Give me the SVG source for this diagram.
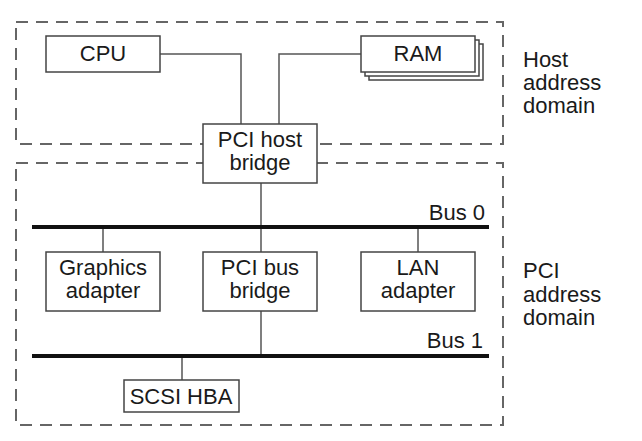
<svg xmlns="http://www.w3.org/2000/svg" width="642" height="441" viewBox="0 0 642 441">
<style>
.dom{fill:none;stroke:#666;stroke-width:2;stroke-dasharray:12 8}
.box{fill:#fff;stroke:#444;stroke-width:1.5}
.ln{fill:none;stroke:#555;stroke-width:1.5}
.bus{fill:none;stroke:#111;stroke-width:4}
text{font-family:"Liberation Sans",Arial,sans-serif;font-size:22px;fill:#1a1a1a}
.c{text-anchor:middle}
.r{text-anchor:end}
</style>
<rect width="642" height="441" fill="#fff"/>
<g id="host-domain">
<rect class="dom" x="16" y="22" width="487" height="122"/>
<text x="523" y="67">Host</text>
<text x="523" y="90">address</text>
<text x="523" y="113">domain</text>
</g>
<g id="pci-domain">
<rect class="dom" x="16" y="163" width="487" height="262"/>
<text x="523" y="278">PCI</text>
<text x="523" y="302">address</text>
<text x="523" y="325">domain</text>
</g>
<g id="connectors">
<polyline class="ln" points="160,54 241,54 241,124"/>
<polyline class="ln" points="279,124 279,54 361,54"/>
<line class="ln" x1="261" y1="183" x2="261" y2="227"/>
<line class="ln" x1="103" y1="227" x2="103" y2="252"/>
<line class="ln" x1="261" y1="227" x2="261" y2="252"/>
<line class="ln" x1="418" y1="227" x2="418" y2="252"/>
<line class="ln" x1="261" y1="311" x2="261" y2="356"/>
<line class="ln" x1="182" y1="356" x2="182" y2="380"/>
</g>
<g id="bus0">
<line class="bus" x1="32" y1="227" x2="489" y2="227"/>
<text class="r" x="485" y="220">Bus 0</text>
</g>
<g id="bus1">
<line class="bus" x1="32" y1="356" x2="489" y2="356"/>
<text class="r" x="483" y="348">Bus 1</text>
</g>
<g id="cpu">
<rect class="box" x="46" y="36" width="114" height="36"/>
<text class="c" x="103" y="61">CPU</text>
</g>
<g id="ram">
<rect class="box" x="369" y="44" width="114" height="36"/>
<rect class="box" x="365" y="40" width="114" height="36"/>
<rect class="box" x="361" y="36" width="114" height="36"/>
<text class="c" x="418" y="61">RAM</text>
</g>
<g id="pci-host-bridge">
<rect class="box" x="203" y="124" width="114" height="59"/>
<text class="c" x="260" y="147">PCI host</text>
<text class="c" x="260" y="170">bridge</text>
</g>
<g id="graphics-adapter">
<rect class="box" x="46" y="252" width="114" height="59"/>
<text class="c" x="103" y="275">Graphics</text>
<text class="c" x="103" y="298">adapter</text>
</g>
<g id="pci-bus-bridge">
<rect class="box" x="203" y="252" width="114" height="59"/>
<text class="c" x="260" y="275">PCI bus</text>
<text class="c" x="260" y="298">bridge</text>
</g>
<g id="lan-adapter">
<rect class="box" x="361" y="252" width="114" height="59"/>
<text class="c" x="418" y="275">LAN</text>
<text class="c" x="418" y="298">adapter</text>
</g>
<g id="scsi-hba">
<rect class="box" x="124" y="380" width="115" height="32"/>
<text class="c" x="181" y="404">SCSI HBA</text>
</g>
</svg>
